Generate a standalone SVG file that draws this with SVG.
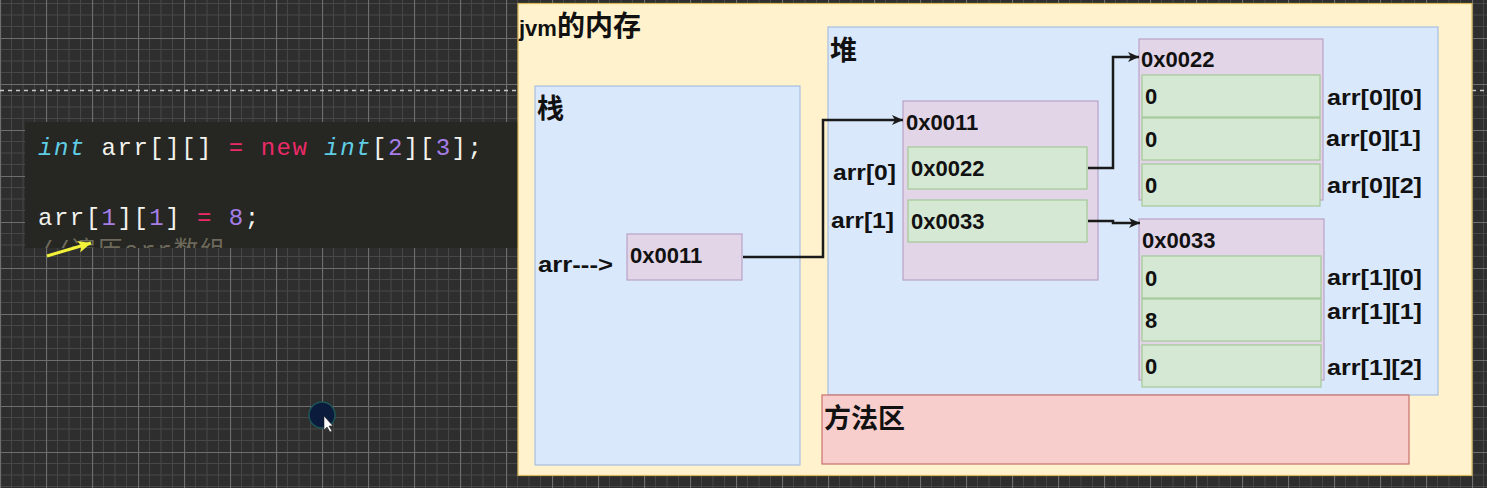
<svg xmlns="http://www.w3.org/2000/svg" width="1487" height="488" viewBox="0 0 1487 488">
<defs>
<pattern id="grid" width="46" height="46" patternUnits="userSpaceOnUse" x="0" y="38">
<rect width="46" height="46" fill="#2e2e2e"/>
<path d="M11.5,0V46M23,0V46M34.5,0V46M0,11.5H46M0,23H46M0,34.5H46" stroke="#474747" stroke-width="1" fill="none"/>
<path d="M0.5,0V46M0,0.5H46" stroke="#6e6e6e" stroke-width="1.2" fill="none"/>
</pattern>
<marker id="arr" markerWidth="12" markerHeight="10" refX="11" refY="5" orient="auto" markerUnits="userSpaceOnUse">
<path d="M0,0 L11,5 L0,10 L3,5 Z" fill="#1a1a1a"/>
</marker>
<marker id="yarr" markerWidth="14" markerHeight="12" refX="13" refY="6" orient="auto" markerUnits="userSpaceOnUse">
<path d="M0,0 L13,6 L0,12 L3,6 Z" fill="#f2f23a"/>
</marker>
<clipPath id="codeclip"><rect x="25" y="122" width="500" height="126"/></clipPath>
<style>
.lbl{font-family:"Liberation Sans","Noto Sans CJK SC",sans-serif;font-weight:bold;font-size:22px;fill:#111}
.cjk{font-family:"Liberation Sans","Noto Sans CJK SC",sans-serif;font-weight:bold;font-size:27px;fill:#111}
.code{font-family:"Liberation Mono","DejaVu Sans Mono",monospace;font-size:24px;letter-spacing:1.5px;fill:#f3f3ee}
.kw{fill:#5fcde4;font-style:italic}
.op{fill:#ec2a68}
.num{fill:#a57ee8}
.cmt{fill:#6d6a5c;font-family:"Liberation Mono","Noto Sans CJK SC",monospace}
.purple{fill:#e1d5e7;stroke:#b9a2c8;stroke-width:1.2}
.green{fill:#d5e8d4;stroke:#a3c996;stroke-width:1.2}
.blue{fill:#dae8fc;stroke:#a7bedf;stroke-width:1.2}
.conn{fill:none;stroke:#1a1a1a;stroke-width:2.5}
</style>
</defs>

<rect x="0" y="0" width="1487" height="488" fill="url(#grid)"/>
<line x1="0" y1="90.5" x2="1487" y2="90.5" stroke="#c8c8c8" stroke-width="1.5" stroke-dasharray="4 4"/>

<g id="code">
<rect x="25" y="122" width="500" height="126" fill="#262622"/>
<text class="code" x="38" y="155" xml:space="preserve"><tspan class="kw">int</tspan> arr[][] <tspan class="op">=</tspan> <tspan class="op">new</tspan> <tspan class="kw">int</tspan>[<tspan class="num">2</tspan>][<tspan class="num">3</tspan>];</text>
<text class="code" x="38" y="225" xml:space="preserve">arr[<tspan class="num">1</tspan>][<tspan class="num">1</tspan>] <tspan class="op">=</tspan> <tspan class="num">8</tspan>;</text>
<g clip-path="url(#codeclip)">
<text class="code cmt" x="38" y="259" style="font-size:25px;letter-spacing:1.5px">//遍历arr数组</text>
</g>
</g>

<g id="pointer-arrow">
<line x1="47" y1="256" x2="91" y2="243" stroke="#f2f23a" stroke-width="3" marker-end="url(#yarr)"/>
</g>

<g id="cursor">
<circle cx="322" cy="415" r="13" fill="#0b1b3c" stroke="#1d5556" stroke-width="1.5"/>
<path d="M324,416 L324,430 L327,427 L330,432 L332,431 L329,426 L333,426 Z" fill="#ffffff" stroke="#222" stroke-width="0.6"/>
</g>

<g id="jvm">
<rect x="518" y="3.5" width="954" height="472" fill="#fff2cc" stroke="#d6b656" stroke-width="1.2"/>
<text class="lbl" x="519" y="36">jvm<tspan style="font-size:28px">的内存</tspan></text>
</g>

<g id="stack">
<rect class="blue" x="535" y="86" width="265" height="379"/>
<text class="cjk" x="537" y="118">栈</text>
<text class="lbl" x="538" y="272" textLength="75" lengthAdjust="spacingAndGlyphs">arr---&gt;</text>
</g>

<g id="stack-ref">
<rect class="purple" x="627" y="234" width="115" height="46"/>
<text class="lbl" x="630" y="263">0x0011</text>
</g>

<g id="heap">
<rect class="blue" x="828" y="27" width="610" height="368"/>
<text class="cjk" x="830" y="60">堆</text>
</g>

<g id="method-area">
<rect x="822" y="395" width="587" height="69" fill="#f8cecc" stroke="#c9706d" stroke-width="1.2"/>
<text class="cjk" x="824" y="428">方法区</text>
</g>

<g id="arr-outer">
<rect class="purple" x="903" y="101" width="195" height="179"/>
<text class="lbl" x="906" y="130">0x0011</text>
<text class="lbl" x="833" y="180" textLength="63" lengthAdjust="spacingAndGlyphs">arr[0]</text>
<text class="lbl" x="831" y="228" textLength="63" lengthAdjust="spacingAndGlyphs">arr[1]</text>
<rect class="green" x="908" y="147" width="179" height="42"/>
<text class="lbl" x="911" y="176">0x0022</text>
<rect class="green" x="908" y="200" width="179" height="42"/>
<text class="lbl" x="911" y="229">0x0033</text>
</g>

<g id="arr-0">
<rect class="purple" x="1139" y="39" width="184" height="161"/>
<text class="lbl" x="1141" y="67">0x0022</text>
<rect class="green" x="1142" y="75" width="178" height="42"/>
<text class="lbl" x="1145" y="104">0</text>
<rect class="green" x="1142" y="118" width="178" height="42"/>
<text class="lbl" x="1145" y="147">0</text>
<rect class="green" x="1142" y="164" width="178" height="42"/>
<text class="lbl" x="1145" y="193">0</text>
<text class="lbl" x="1327" y="105" textLength="95" lengthAdjust="spacingAndGlyphs">arr[0][0]</text>
<text class="lbl" x="1326" y="146" textLength="95" lengthAdjust="spacingAndGlyphs">arr[0][1]</text>
<text class="lbl" x="1327" y="193" textLength="95" lengthAdjust="spacingAndGlyphs">arr[0][2]</text>
</g>

<g id="arr-1">
<rect class="purple" x="1139" y="219" width="185" height="161"/>
<text class="lbl" x="1142" y="248">0x0033</text>
<rect class="green" x="1142" y="256" width="179" height="42"/>
<text class="lbl" x="1145" y="286">0</text>
<rect class="green" x="1142" y="299" width="179" height="42"/>
<text class="lbl" x="1145" y="328">8</text>
<rect class="green" x="1142" y="345" width="179" height="42"/>
<text class="lbl" x="1145" y="374">0</text>
<text class="lbl" x="1327" y="285" textLength="95" lengthAdjust="spacingAndGlyphs">arr[1][0]</text>
<text class="lbl" x="1327" y="319" textLength="95" lengthAdjust="spacingAndGlyphs">arr[1][1]</text>
<text class="lbl" x="1327" y="375" textLength="95" lengthAdjust="spacingAndGlyphs">arr[1][2]</text>
</g>

<g id="connectors">
<path class="conn" d="M743,257 H823 V120 H903" marker-end="url(#arr)"/>
<path class="conn" d="M1088,168 H1113 V57 H1139" marker-end="url(#arr)"/>
<path class="conn" d="M1088,221 H1113 V223 H1140" marker-end="url(#arr)"/>
</g>
</svg>
